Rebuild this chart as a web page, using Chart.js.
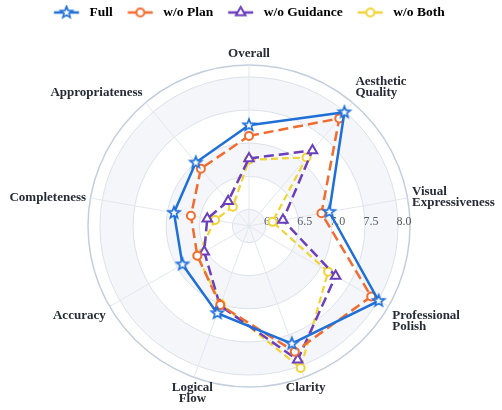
<!DOCTYPE html>
<html>
<head>
<meta charset="utf-8">
<title>Ablation radar</title>
<script src="https://cdn.jsdelivr.net/npm/chart.js@4.4.1/dist/chart.umd.min.js"></script>
<style>
  html, body { margin: 0; padding: 0; background: #fff; }
</style>
</head>
<body>
<canvas id="radar" width="502" height="410"></canvas>
<script>
// data
const categories = ['Overall', ['Aesthetic', 'Quality'], ['Visual', 'Expressiveness'], ['Professional', 'Polish'],
    'Clarity', ['Logical', 'Flow'], 'Accuracy', 'Completeness', 'Appropriateness'];
const fullScores       = [7.27, 7.99, 6.98, 8.01, 7.64, 7.15, 6.91, 6.90, 7.00];
const noPlanScores     = [7.11, 7.87, 6.86, 7.88, 7.77, 7.02, 6.65, 6.64, 6.88];
const noGuidanceScores = [6.77, 7.24, 6.27, 7.26, 7.90, 7.03, 6.53, 6.39, 6.24];
const noBothScores     = [6.75, 7.10, 6.11, 7.13, 8.03, 7.00, 6.65, 6.27, 6.13];
const radialTicks = [6.0, 6.5, 7.0, 7.5, 8.0];
const radialMin = 5.75;
const radialMax = 8.18;

const seriesNames   = ['Full', 'w/o Plan', 'w/o Guidance', 'w/o Both'];
const seriesColors  = ['#1f6fd8', '#f26b2f', '#6b3fbd', '#f2d335'];
const seriesMarkers = ['star', 'circle', 'triangle', 'circle'];
const seriesDashes  = [[], [10, 5], [10, 5], [7, 4]];

const FONT = '"Liberation Serif", "Times New Roman", Times, serif';

function drawMarker(ctx, kind, cx, cy, color) {
    ctx.save();
    ctx.fillStyle = '#ffffff';
    ctx.strokeStyle = color;
    ctx.lineWidth = 2;
    ctx.beginPath();
    if (kind === 'star') {
        for (let k = 0; k < 10; k++) {
            const rad = k % 2 ? 2.6 : 6.2;
            const a = -Math.PI / 2 + k * Math.PI / 5;
            ctx.lineTo(cx + rad * Math.cos(a), cy + rad * Math.sin(a));
        }
        ctx.closePath();
        ctx.lineWidth = 1.6;
    } else if (kind === 'triangle') {
        for (let k = 0; k < 3; k++) {
            const a = -Math.PI / 2 + k * 2 * Math.PI / 3;
            ctx.lineTo(cx + 5.5 * Math.cos(a), cy + 5.5 * Math.sin(a));
        }
        ctx.closePath();
    } else {
        ctx.arc(cx, cy, 4, 0, Math.PI * 2);
    }
    ctx.fill();
    ctx.stroke();
    ctx.restore();
}

function starImage(color) {
    const c = document.createElement('canvas');
    c.width = 18; c.height = 18;
    drawMarker(c.getContext('2d'), 'star', 9, 9, color);
    return c;
}

// legend symbol: short line with the marker in the middle (plotly style)
function legendImage(kind, color) {
    const c = document.createElement('canvas');
    c.width = 38; c.height = 16;
    const g = c.getContext('2d');
    g.strokeStyle = color;
    g.lineWidth = 2.5;
    g.beginPath();
    g.moveTo(9.25, 8);
    g.lineTo(34.25, 8);
    g.stroke();
    drawMarker(g, kind, 21.75, 8, color);
    return c;
}

const legendSymbols = seriesNames.map((n, i) => legendImage(seriesMarkers[i], seriesColors[i]));

const seriesData = [fullScores, noPlanScores, noGuidanceScores, noBothScores];
const datasets = seriesNames.map((name, i) => ({
    label: name,
    data: seriesData[i],
    borderColor: seriesColors[i],
    borderWidth: i === 3 ? 2.2 : 2.5,
    borderDash: seriesDashes[i],
    fill: false,
    tension: 0,
    pointStyle: seriesMarkers[i] === 'star' ? starImage(seriesColors[i]) : seriesMarkers[i],
    pointRadius: seriesMarkers[i] === 'triangle' ? 5.5 : 4,
    pointBackgroundColor: '#ffffff',
    pointBorderColor: seriesColors[i],
    pointBorderWidth: 2
}));

// alternating rings behind the grid
const bandPlugin = {
    id: 'bands',
    beforeDraw(chart) {
        const r = chart.scales.r;
        const ctx = chart.ctx;
        const edges = [radialMin].concat(radialTicks, [radialMax]);
        ctx.save();
        for (let i = edges.length - 2; i >= 0; i--) {
            ctx.beginPath();
            ctx.arc(r.xCenter, r.yCenter, r.getDistanceFromCenterForValue(edges[i + 1]), 0, Math.PI * 2);
            ctx.fillStyle = i % 2 === 0 ? '#f4f6f9' : '#ffffff';
            ctx.fill();
        }
        ctx.restore();
    }
};

// radial tick labels run horizontally to the right of the centre
const tickLabelPlugin = {
    id: 'tickLabels',
    beforeDatasetsDraw(chart) {
        const r = chart.scales.r;
        const ctx = chart.ctx;
        ctx.save();
        ctx.font = '12px ' + FONT;
        ctx.fillStyle = '#555b66';
        ctx.textAlign = 'center';
        ctx.textBaseline = 'middle';
        radialTicks.forEach(v => {
            const d = r.getDistanceFromCenterForValue(v);
            ctx.fillText(v.toFixed(1), r.xCenter + d + 6, r.yCenter - 4);
        });
        ctx.restore();
    }
};

// category labels, anchored like plotly's angular tick labels
const pointLabelPlugin = {
    id: 'catLabels',
    afterDraw(chart) {
        const r = chart.scales.r;
        const ctx = chart.ctx;
        const lineH = 11;
        ctx.save();
        ctx.font = 'bold 13px ' + FONT;
        ctx.fillStyle = '#262b36';
        ctx.textBaseline = 'middle';
        chart.data.labels.forEach((lab, i) => {
            const lines = Array.isArray(lab) ? lab : [lab];
            const p = r.getPointPosition(i, r.drawingArea + 4.5);
            const dx = Math.cos(p.angle), dy = Math.sin(p.angle);
            ctx.textAlign = Math.abs(dx) < 0.4 ? 'center' : (dx > 0 ? 'left' : 'right');
            let y0;
            if (dy < -0.35) y0 = p.y - 6.5 - (lines.length - 1) * lineH;
            else if (dy > 0.35) y0 = p.y + 6.5;
            else y0 = p.y - (lines.length - 1) * lineH / 2;
            lines.forEach((t, k) => ctx.fillText(t, p.x, y0 + k * lineH));
        });
        ctx.restore();
    }
};

new Chart(document.getElementById('radar'), {
    type: 'radar',
    data: { labels: categories, datasets: datasets },
    plugins: [bandPlugin, tickLabelPlugin, pointLabelPlugin],
    options: {
        responsive: false,
        animation: false,
        layout: { padding: { left: 39, right: 43, top: 0, bottom: 23 } },
        scales: {
            r: {
                min: radialMin,
                max: radialMax,
                startAngle: 0,
                afterBuildTicks: function (scale) {
                    scale.ticks = [radialMin].concat(radialTicks, [radialMax]).map(v => ({ value: v }));
                },
                ticks: { display: false },
                pointLabels: { display: false },
                grid: {
                    circular: true,
                    color: function (c) { return c.tick && c.tick.value === radialMax ? '#c3cedd' : '#dce2ec'; },
                    lineWidth: function (c) { return c.tick && c.tick.value === radialMax ? 1.5 : 1; }
                },
                angleLines: { color: '#e3e7ef', lineWidth: 1 }
            }
        },
        plugins: {
            tooltip: { enabled: false },
            legend: {
                position: 'top',
                align: 'start',
                labels: {
                    usePointStyle: true,
                    pointStyleWidth: 38,
                    padding: 5.75,
                    color: '#111111',
                    font: { family: FONT, size: 13.5, weight: 'bold' },
                    generateLabels: function (chart) {
                        return chart.data.datasets.map((ds, i) => ({
                            text: ds.label,
                            pointStyle: legendSymbols[i],
                            fillStyle: ds.borderColor,
                            strokeStyle: ds.borderColor,
                            lineWidth: 0,
                            hidden: false,
                            datasetIndex: i
                        }));
                    }
                }
            },
            // empty title only used as a spacer between legend and plot
            title: {
                display: true,
                text: '',
                weight: 500,
                font: { size: 10, lineHeight: 1 },
                padding: { top: 0, bottom: 25.75 }
            }
        }
    }
});
</script>
</body>
</html>
